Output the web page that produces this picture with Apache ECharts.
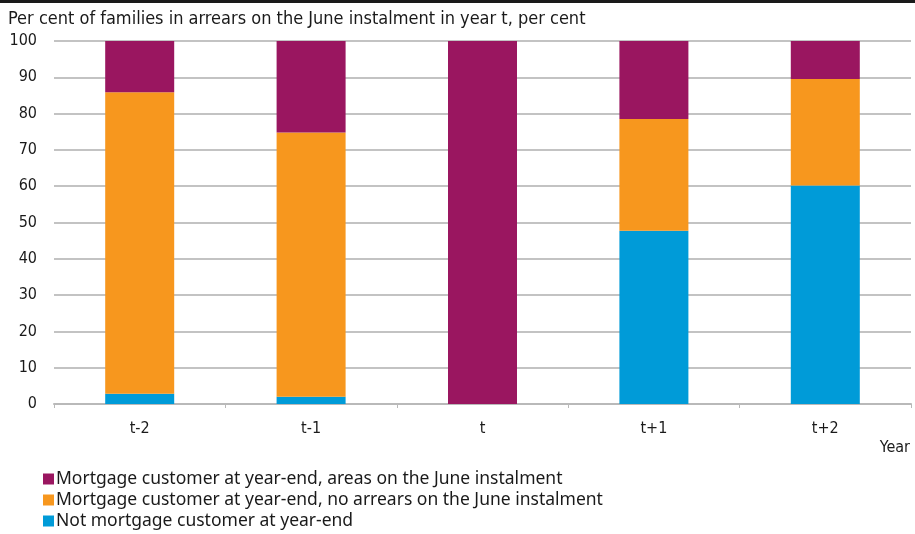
<!DOCTYPE html>
<html>
<head>
<meta charset="utf-8">
<script src="https://cdn.jsdelivr.net/npm/echarts@6/dist/echarts.min.js"></script>
<style>
  html, body { margin: 0; padding: 0; background: #fff; }
  #chart { width: 915px; height: 534px; }
</style>
</head>
<body>
<div id="chart"></div>
<script>
// Year relative to the June instalment in arrears
const categories = ['t-2', 't-1', 't', 't+1', 't+2'];

// Shares of families, per cent (stacked from bottom to top)
const notCustomer = [2.8, 2.0, 0, 47.7, 60.2];
const customerNoArrears = [83.1, 72.8, 0, 30.8, 29.3];
const customerArrears = [14.1, 25.2, 100, 21.5, 10.5];

const seriesNames = [
  'Not mortgage customer at year-end',
  'Mortgage customer at year-end, no arrears on the June instalment',
  'Mortgage customer at year-end, areas on the June instalment'
];
const yTicks = [0, 10, 20, 30, 40, 50, 60, 70, 80, 90, 100];

const condensed = '"Liberation Sans Narrow", "DejaVu Sans Condensed", sans-serif';
const regular = '"Noto Sans", "Open Sans", sans-serif';
const colors = ['#009bd8', '#f7971e', '#9a1660'];

const chart = echarts.init(document.getElementById('chart'), null, { renderer: 'canvas' });

const values = [notCustomer, customerNoArrears, customerArrears];

chart.setOption({
  animation: false,
  textStyle: { fontFamily: condensed },
  title: {
    text: 'Per cent of families in arrears on the June instalment in year t, per cent',
    left: 3,
    top: 5,
    textStyle: { fontFamily: condensed, fontSize: 18, fontWeight: 'normal', color: '#1a1a1a' }
  },
  graphic: [
    { type: 'rect', left: 0, top: 0, shape: { width: 915, height: 3 }, style: { fill: '#1a1a1a' } },
    {
      type: 'text', right: 5, top: 440,
      style: { text: 'Year', font: '16px ' + condensed, fill: '#1a1a1a' }
    }
  ],
  legend: {
    orient: 'vertical',
    left: 38,
    top: 464,
    height: 70,
    itemWidth: 11,
    itemHeight: 11,
    itemGap: 1,
    icon: 'rect',
    data: [seriesNames[2], seriesNames[1], seriesNames[0]],
    textStyle: { fontFamily: regular, fontSize: 17.5, lineHeight: 20, color: '#1a1a1a', padding: [0, 0, 0, -3] }
  },
  grid: { left: 54, right: 4, top: 41, bottom: 130, containLabel: false },
  xAxis: {
    type: 'category',
    data: categories,
    axisLine: { lineStyle: { color: '#b9b9b9', width: 2 } },
    axisTick: { show: true, length: 4, lineStyle: { color: '#b9b9b9', width: 1 } },
    axisLabel: { margin: 17, fontSize: 16, color: '#1a1a1a', fontFamily: condensed }
  },
  yAxis: {
    type: 'value',
    min: yTicks[0],
    max: yTicks[yTicks.length - 1],
    interval: yTicks[1] - yTicks[0],
    axisLine: { show: false },
    axisTick: { show: false },
    splitLine: { lineStyle: { color: '#c3c3c3', width: 2 } },
    axisLabel: { margin: 17, fontSize: 16, color: '#1a1a1a', fontFamily: condensed }
  },
  series: values.map((v, i) => ({
    name: seriesNames[i],
    type: 'bar',
    stack: 'total',
    barWidth: 69,
    data: v,
    itemStyle: { color: colors[i] }
  }))
});
</script>
</body>
</html>
